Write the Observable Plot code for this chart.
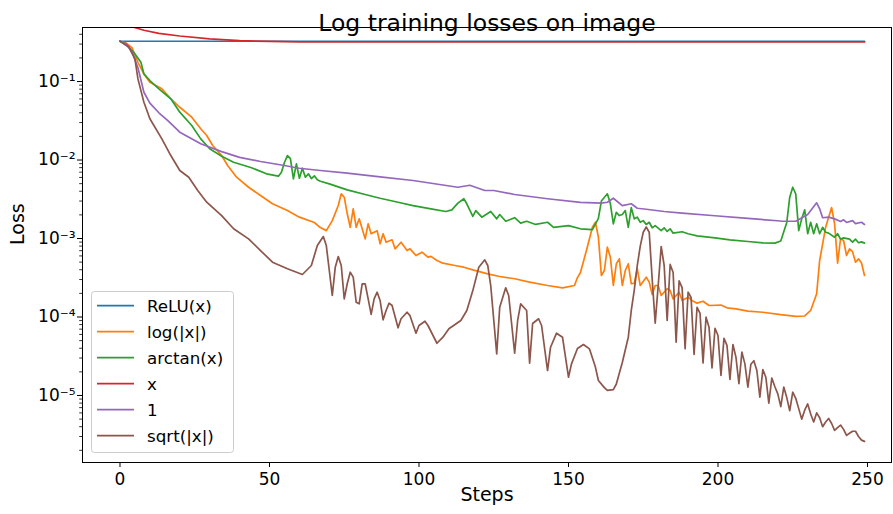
<!DOCTYPE html>
<html>
<head>
<meta charset="utf-8">
<script src="https://cdn.jsdelivr.net/npm/d3@7"></script>
<script src="https://cdn.jsdelivr.net/npm/@observablehq/plot@0.6"></script>
<style>
  html, body { margin: 0; padding: 0; background: #ffffff; }
  #chart { width: 893px; height: 514px; }
</style>
</head>
<body>
<div id="chart"></div>
<script>
// ---- chart text ----
const chartTitle = "Log training losses on image";
const xLabel = "Steps";
const yLabel = "Loss";

// ---- series ----
const seriesNames = ["ReLU(x)", "log(|x|)", "arctan(x)", "x", "1", "sqrt(|x|)"];
const seriesColors = ["#1f77b4", "#ff7f0e", "#2ca02c", "#d62728", "#9467bd", "#8c564b"];

// ---- ticks ----
const xTicks = [0, 50, 100, 150, 200, 250];
const yTicks = [1e-5, 1e-4, 1e-3, 1e-2, 1e-1];
const yTickLabels = ["10⁻⁵", "10⁻⁴", "10⁻³", "10⁻²", "10⁻¹"];

// ---- data: [step, loss] ----
const reluData = [[0,0.326],[50,0.326],[100,0.326],[150,0.326],[200,0.326],[249,0.326]];

const xData = [[0,0.65],[2,0.56],[4,0.5],[8,0.45],[13,0.41],[20,0.38],[30,0.35],[40,0.332],[50,0.324],[60,0.321],[100,0.32],[150,0.32],[200,0.32],[249,0.32]];

const oneData = [[0,0.326],[2,0.30],[4,0.24],[6,0.15],[8,0.073],[10,0.053],[13,0.04],[16,0.0318],[20,0.0226],[27,0.0161],[34,0.0128],[40,0.0108],[47,0.00957],[54,0.00864],[60,0.00786],[67,0.00735],[76,0.00679],[87,0.0061],[98,0.00548],[113,0.0045],[117,0.00477],[122,0.00409],[125,0.00409],[132,0.00364],[143,0.00321],[154,0.00288],[161,0.00282],[163,0.0029],[165,0.00326],[168,0.00263],[171,0.00277],[173,0.00243],[176,0.00236],[182,0.00221],[188,0.0021],[199,0.00195],[210,0.0018],[221,0.00167],[226,0.00166],[230,0.00202],[233,0.00285],[234,0.00239],[235,0.00184],[237,0.00187],[239,0.00178],[241,0.00165],[242,0.00173],[243,0.0016],[245,0.00169],[246,0.00155],[248,0.00161],[249,0.00151]];

const arctanData = [[0,0.326],[2,0.302],[5,0.225],[7,0.176],[8,0.125],[10,0.103],[13,0.0807],[17,0.0602],[20,0.0407],[24,0.0275],[27,0.0186],[30,0.0139],[34,0.0112],[38,0.00937],[44,0.00796],[49,0.00667],[53,0.00622],[54,0.00699],[55,0.00929],[56,0.0114],[57,0.0104],[58,0.00576],[59,0.00895],[60,0.00586],[61,0.00786],[62,0.00604],[63,0.00667],[64,0.00581],[65,0.00629],[66,0.00559],[67,0.00537],[70,0.00497],[76,0.00417],[82,0.00364],[87,0.00326],[93,0.0029],[98,0.00263],[104,0.00239],[109,0.00221],[111,0.00232],[113,0.00282],[115,0.00321],[116,0.00277],[118,0.00191],[119,0.00227],[121,0.00187],[124,0.00221],[126,0.00178],[127,0.00202],[129,0.00166],[132,0.00184],[134,0.00157],[136,0.00166],[139,0.00151],[143,0.00161],[145,0.00139],[150,0.00146],[154,0.00133],[158,0.0013],[160,0.0018],[161,0.003],[163,0.00371],[164,0.00279],[165,0.00154],[166,0.00216],[167,0.00196],[168,0.00202],[169,0.00227],[170,0.00139],[171,0.00247],[172,0.00178],[173,0.00187],[174,0.00161],[175,0.00169],[176,0.00151],[177,0.00161],[178,0.00137],[179,0.00146],[181,0.00126],[182,0.00137],[183,0.00123],[184,0.00133],[185,0.00117],[188,0.00122],[190,0.00115],[193,0.00108],[199,0.00102],[204,0.000963],[210,0.000916],[215,0.000882],[219,0.000873],[221,0.00093],[223,0.0016],[224,0.00336],[225,0.0045],[226,0.00371],[227,0.00126],[228,0.00178],[229,0.00232],[230,0.00115],[231,0.00161],[232,0.00115],[233,0.00154],[234,0.00115],[235,0.00139],[236,0.0012],[237,0.00117],[239,0.00104],[240,0.00115],[241,0.00098],[242,0.00102],[244,0.00098],[245,0.000897],[246,0.00098],[247,0.000882],[248,0.000906],[249,0.000873]];

const logData = [[0,0.326],[2,0.31],[4,0.27],[6,0.176],[8,0.125],[10,0.098],[14,0.0807],[17,0.0602],[20,0.047],[24,0.0351],[27,0.025],[29,0.0205],[31,0.0153],[34,0.0114],[36,0.00851],[39,0.00604],[43,0.0045],[47,0.00353],[51,0.00277],[56,0.00227],[60,0.00187],[65,0.0016],[67,0.00138],[69,0.00126],[71,0.00169],[73,0.00263],[74,0.00371],[75,0.00336],[76,0.00208],[77,0.00139],[78,0.00239],[79,0.00139],[80,0.00178],[82,0.00099],[83,0.00154],[84,0.00115],[86,0.00126],[87,0.000856],[88,0.00115],[89,0.000897],[91,0.000963],[92,0.000739],[94,0.000897],[96,0.000703],[97,0.000739],[99,0.000607],[101,0.000669],[103,0.000578],[104,0.000592],[106,0.000524],[108,0.000485],[112,0.000453],[115,0.000431],[118,0.000399],[123,0.000355],[127,0.000328],[132,0.000307],[137,0.000278],[143,0.000252],[148,0.000235],[152,0.000252],[153,0.000318],[154,0.000369],[156,0.000703],[158,0.00139],[159,0.00161],[160,0.00104],[161,0.000338],[162,0.000391],[163,0.000775],[164,0.000578],[165,0.000252],[166,0.000476],[167,0.000551],[168,0.000252],[169,0.000391],[170,0.000476],[171,0.000265],[172,0.000269],[173,0.000411],[174,0.000252],[176,0.000322],[177,0.000278],[178,0.000193],[179,0.000252],[180,0.000252],[181,0.000188],[183,0.000229],[184,0.000217],[185,0.00017],[187,0.000207],[188,0.000162],[190,0.000179],[191,0.000165],[193,0.00015],[195,0.000159],[197,0.00014],[201,0.000142],[203,0.000131],[206,0.000127],[210,0.000119],[215,0.000115],[221,0.000107],[226,0.000102],[229,0.000103],[231,0.000121],[233,0.000198],[234,0.000524],[236,0.00139],[238,0.00248],[239,0.00154],[240,0.000485],[241,0.001],[242,0.000943],[243,0.000607],[244,0.000739],[245,0.00068],[246,0.000499],[247,0.000551],[248,0.000488],[249,0.000338]];

const sqrtData = [[0,0.326],[3,0.273],[5,0.194],[6,0.108],[8,0.0545],[10,0.0335],[14,0.0186],[17,0.0114],[20,0.00735],[23,0.00604],[26,0.00409],[29,0.0029],[34,0.00196],[38,0.00133],[43,0.00099],[47,0.000703],[51,0.000499],[56,0.000411],[61,0.000348],[64,0.000453],[66,0.000814],[68,0.00106],[69,0.000814],[70,0.000391],[71,0.000188],[72,0.000431],[73,0.000589],[74,0.000453],[75,0.00017],[76,0.000265],[77,0.000372],[78,0.000322],[79,0.000154],[80,0.000147],[81,0.000265],[82,0.000265],[83,0.00017],[84,0.000108],[85,0.00017],[86,0.000207],[87,0.000162],[88,0.0000921],[89,0.000121],[90,0.00015],[91,0.00014],[93,0.0000728],[94,0.0000949],[96,0.000115],[97,0.000104],[99,0.0000622],[100,0.0000779],[102,0.0000884],[103,0.0000779],[106,0.0000463],[108,0.0000553],[110,0.0000708],[114,0.0000903],[116,0.000121],[118,0.000217],[120,0.000431],[122,0.000535],[123,0.000453],[124,0.00025],[126,0.0000339],[127,0.000133],[129,0.000235],[130,0.000188],[132,0.0000346],[133,0.0000903],[134,0.000147],[136,0.000121],[137,0.0000258],[138,0.0000826],[140,0.0000949],[141,0.0000779],[143,0.0000208],[144,0.0000412],[146,0.0000622],[148,0.0000553],[150,0.0000171],[151,0.0000253],[153,0.0000397],[155,0.0000446],[157,0.0000393],[159,0.000023],[160,0.0000155],[162,0.0000126],[163,0.0000116],[165,0.0000119],[166,0.000014],[168,0.0000263],[170,0.0000553],[171,0.000121],[172,0.00022],[173,0.00045],[174,0.0008],[175,0.0012],[176,0.0014],[177,0.0012],[178,0.0003],[179,0.0000834],[180,0.000252],[181,0.000791],[182,0.000453],[183,0.0000903],[184,0.000467],[185,0.000369],[186,0.0000477],[187,0.000288],[188,0.000237],[189,0.0000393],[190,0.000207],[191,0.000177],[192,0.0000333],[193,0.000133],[194,0.000111],[195,0.0000259],[196,0.0000994],[197,0.0000742],[198,0.0000224],[199,0.0000718],[200,0.0000581],[201,0.000018],[202,0.0000535],[203,0.0000434],[204,0.000016],[205,0.0000446],[206,0.0000308],[207,0.0000141],[208,0.0000356],[209,0.0000253],[210,0.0000128],[211,0.000025],[212,0.0000277],[213,0.0000208],[214,0.0000095],[215,0.0000214],[216,0.0000171],[217,0.000008],[218,0.0000167],[219,0.000013],[220,0.0000105],[221,0.0000072],[222,0.0000128],[223,0.0000094],[224,0.0000064],[225,0.000011],[226,0.0000092],[227,0.0000068],[228,0.000005],[229,0.0000065],[230,0.0000078],[231,0.0000058],[232,0.0000046],[233,0.000006],[234,0.0000052],[235,0.000004],[236,0.0000046],[237,0.0000051],[238,0.0000044],[239,0.0000036],[240,0.0000039],[241,0.0000042],[242,0.0000037],[243,0.0000031],[244,0.0000033],[245,0.0000035],[246,0.0000035],[247,0.000003],[248,0.0000027],[249,0.0000026]];

const seriesData = [reluData, logData, arctanData, xData, oneData, sqrtData];

// table for Plot
const rows = seriesData.flatMap((d, i) => d.map(([step, loss]) => ({series: seriesNames[i], step, loss})));

// minor log ticks (2..9 per decade)
const minorTicks = [];
for (let e = -6; e <= -1; e++) for (let m = 2; m <= 9; m++) minorTicks.push(m * Math.pow(10, e));
const yDomain = [1.4e-6, 0.488];
const minorInRange = minorTicks.filter(v => v >= yDomain[0] && v <= yDomain[1]);

const font = "DejaVu Sans, sans-serif";

const chart = Plot.plot({
  width: 893,
  height: 514,
  marginTop: 27,
  marginBottom: 52,
  marginLeft: 82,
  marginRight: 2,
  style: {fontFamily: font, fontSize: "17px", background: "#ffffff", color: "#000000", overflow: "visible"},
  x: {domain: [-12.54, 258.03], label: null},
  y: {type: "log", domain: yDomain, label: null},
  color: {domain: seriesNames, range: seriesColors},
  marks: [
    Plot.axisX(xTicks, {tickSize: 5, tickPadding: 5, fontSize: 17, label: null, tickFormat: d => String(d), stroke: "#000"}),
    Plot.axisY(yTicks, {tickSize: 5, tickPadding: 2, fontSize: 17, label: null, tickFormat: d => yTickLabels[yTicks.indexOf(d)], stroke: "#000"}),
    Plot.axisY(minorInRange, {tickSize: 2.8, label: null, tickFormat: () => "", stroke: "#000", strokeWidth: 0.8}),
    ...seriesNames.map(name => Plot.line(rows.filter(r => r.series === name), {
      x: "step", y: "loss", stroke: "series", strokeWidth: 1.7, clip: true
    })),
    Plot.frame({stroke: "#000", strokeWidth: 1}),
    Plot.text([chartTitle], {text: d => d, frameAnchor: "top", dy: -13.5, fontSize: 23.5, fill: "#000"}),
    Plot.text([xLabel], {text: d => d, frameAnchor: "bottom", dy: 38, fontSize: 19, fill: "#000"}),
    Plot.text([yLabel], {text: d => d, frameAnchor: "left", dx: -64.5, rotate: -90, fontSize: 19, fill: "#000"})
  ]
});

// legend (matplotlib style box, lower left)
const svg = d3.select(chart);
const lg = svg.append("g")
  .attr("font-family", font)
  .attr("font-size", 16.7)
  .attr("text-anchor", "start");
lg.append("rect")
  .attr("x", 91.5).attr("y", 291.5).attr("width", 142).attr("height", 161)
  .attr("rx", 3).attr("fill", "#ffffff").attr("fill-opacity", 0.8)
  .attr("stroke", "#cccccc").attr("stroke-width", 1);
seriesNames.forEach((name, i) => {
  const y = 305.7 + i * 26;
  lg.append("line").attr("x1", 97).attr("x2", 134).attr("y1", y).attr("y2", y)
    .attr("stroke", seriesColors[i]).attr("stroke-width", 1.7);
  lg.append("text").attr("x", 147).attr("y", y).attr("dy", "0.35em")
    .attr("text-anchor", "start").attr("fill", "#000").text(name);
});

document.getElementById("chart").appendChild(chart);
</script>
</body>
</html>
